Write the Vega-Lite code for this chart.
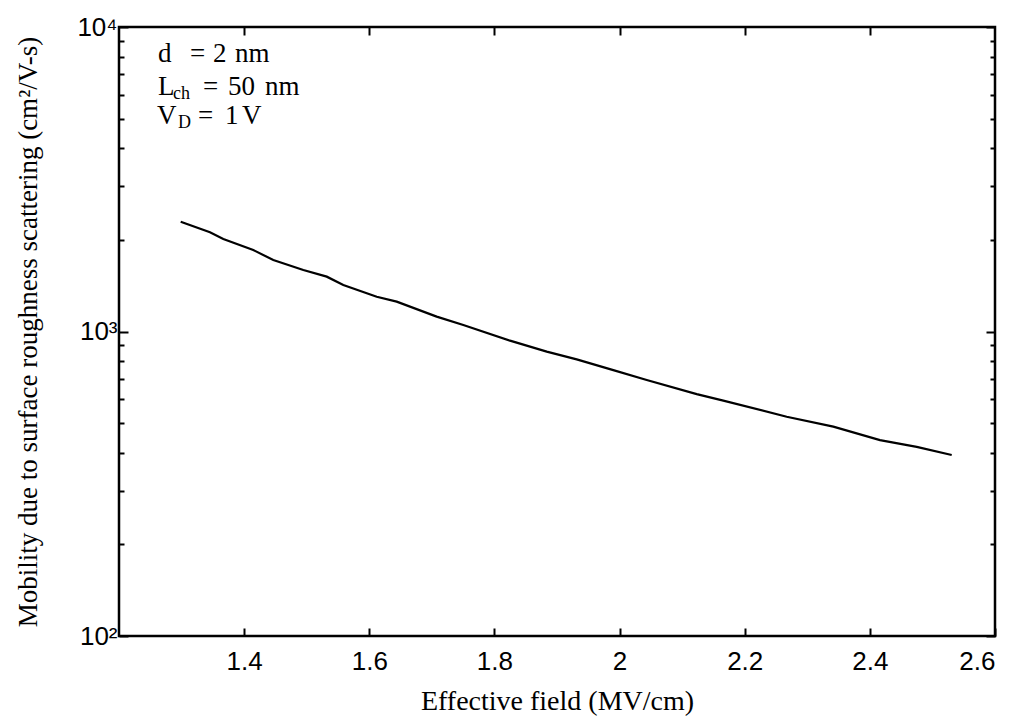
{
  "$schema": "https://vega.github.io/schema/vega-lite/v6.json",
  "width": 876,
  "height": 609,
  "autosize": "none",
  "padding": {"left": 119, "top": 27, "right": 28, "bottom": 85},
  "background": "white",
  "config": {
    "view": {"stroke": "black", "strokeWidth": 2.5},
    "axis": {
      "domain": false,
      "grid": false,
      "labelFont": "Liberation Sans",
      "labelFontSize": 26,
      "labelColor": "black",
      "tickColor": "black",
      "tickWidth": 2,
      "titleFont": "Liberation Serif",
      "titleFontSize": 27,
      "titleFontWeight": "normal",
      "titleColor": "black"
    }
  },
  "datasets": {
    "curve": [
      {"field": 1.2986, "mobility": 2294},
      {"field": 1.3454, "mobility": 2118},
      {"field": 1.3667, "mobility": 2012},
      {"field": 1.4146, "mobility": 1852},
      {"field": 1.4466, "mobility": 1717},
      {"field": 1.4946, "mobility": 1592},
      {"field": 1.532, "mobility": 1514},
      {"field": 1.5585, "mobility": 1421},
      {"field": 1.6119, "mobility": 1301},
      {"field": 1.6438, "mobility": 1253},
      {"field": 1.7077, "mobility": 1119},
      {"field": 1.7503, "mobility": 1050},
      {"field": 1.8249, "mobility": 933},
      {"field": 1.8836, "mobility": 859},
      {"field": 1.9315, "mobility": 810},
      {"field": 1.99, "mobility": 747},
      {"field": 2.0434, "mobility": 693},
      {"field": 2.1233, "mobility": 623},
      {"field": 2.1658, "mobility": 593},
      {"field": 2.2671, "mobility": 525},
      {"field": 2.3416, "mobility": 487},
      {"field": 2.4162, "mobility": 440},
      {"field": 2.4749, "mobility": 418},
      {"field": 2.5308, "mobility": 393}
    ],
    "notes": [
      {"x": 1.2623, "y": 7676, "t": "d"},
      {"x": 1.3135, "y": 7676, "t": "="},
      {"x": 1.3502, "y": 7676, "t": "2"},
      {"x": 1.3854, "y": 7676, "t": "nm"},
      {"x": 1.2623, "y": 5979, "t": "L"},
      {"x": 1.3342, "y": 5979, "t": "="},
      {"x": 1.3742, "y": 5979, "t": "50"},
      {"x": 1.4333, "y": 5979, "t": "nm"},
      {"x": 1.2607, "y": 4802, "t": "V"},
      {"x": 1.3263, "y": 4802, "t": "="},
      {"x": 1.3694, "y": 4802, "t": "1"},
      {"x": 1.3966, "y": 4802, "t": "V"}
    ],
    "subs": [
      {"x": 1.2863, "y": 5979, "t": "ch"},
      {"x": 1.2943, "y": 4802, "t": "D"}
    ]
  },
  "layer": [
    {
      "data": {"name": "curve"},
      "mark": {"type": "line", "color": "black", "strokeWidth": 2.2},
      "encoding": {
        "x": {
          "field": "field", "type": "quantitative",
          "scale": {"domain": [1.2, 2.6], "nice": false, "zero": false},
          "axis": {
            "orient": "bottom",
            "title": "Effective field (MV/cm)",
            "titleFontSize": 28,
            "values": [1.4, 1.6, 1.8, 2, 2.2, 2.4, 2.6],
            "tickSize": -8,
            "labelPadding": 20,
            "titlePadding": 13,
            "labelExpr": "datum.value == 2 ? '2' : format(datum.value, '.1f')"
          }
        },
        "y": {
          "field": "mobility", "type": "quantitative",
          "scale": {"type": "log", "domain": [100, 10000], "nice": false},
          "axis": {
            "orient": "left",
            "title": "Mobility due to surface roughness scattering (cm²/V-s)",
            "values": [100, 200, 300, 400, 500, 600, 700, 800, 900, 1000, 2000, 3000, 4000, 5000, 6000, 7000, 8000, 9000, 10000],
            "tickSize": {"condition": {"test": "datum.value === 100 || datum.value === 1000 || datum.value === 10000", "value": -9}, "value": -5},
            "labelPadding": 11,
            "titlePadding": 34,
            "labelExpr": "datum.value === 100 ? '10²' : datum.value === 1000 ? '10³' : datum.value === 10000 ? '10⁴' : ''"
          }
        }
      }
    },
    {
      "data": {"name": "curve"},
      "mark": {"type": "line", "opacity": 0},
      "encoding": {
        "x": {
          "field": "field", "type": "quantitative",
          "axis": {"orient": "top", "title": null, "labels": false, "values": [1.4, 1.6, 1.8, 2, 2.2, 2.4], "tickSize": -8}
        },
        "y": {
          "field": "mobility", "type": "quantitative",
          "axis": {
            "orient": "right", "title": null, "labels": false,
            "values": [100, 200, 300, 400, 500, 600, 700, 800, 900, 1000, 2000, 3000, 4000, 5000, 6000, 7000, 8000, 9000, 10000],
            "tickSize": {"condition": {"test": "datum.value === 100 || datum.value === 1000 || datum.value === 10000", "value": -9}, "value": -5}
          }
        }
      }
    },
    {
      "data": {"name": "notes"},
      "mark": {"type": "text", "font": "Liberation Serif", "fontSize": 27, "align": "left", "baseline": "alphabetic", "color": "black"},
      "encoding": {
        "x": {"field": "x", "type": "quantitative", "axis": null},
        "y": {"field": "y", "type": "quantitative", "axis": null},
        "text": {"field": "t"}
      }
    },
    {
      "data": {"name": "subs"},
      "mark": {"type": "text", "font": "Liberation Serif", "fontSize": 18, "align": "left", "baseline": "alphabetic", "dy": 4, "color": "black"},
      "encoding": {
        "x": {"field": "x", "type": "quantitative", "axis": null},
        "y": {"field": "y", "type": "quantitative", "axis": null},
        "text": {"field": "t"}
      }
    }
  ],
  "resolve": {"axis": {"x": "independent", "y": "independent"}}
}
